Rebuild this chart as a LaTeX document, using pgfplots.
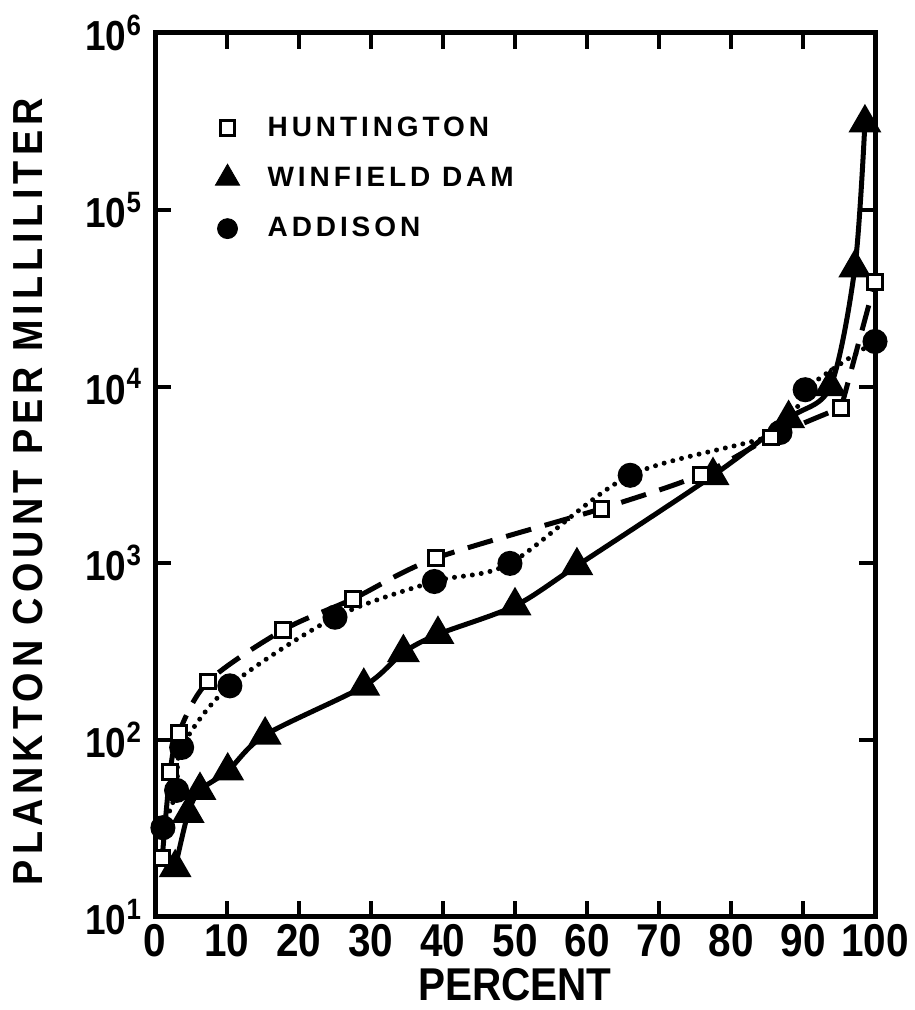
\documentclass[border=0pt]{standalone}
\usepackage{fontspec}
\setmainfont{Liberation Sans}
\newfontfamily\lab[FakeStretch=0.88]{Liberation Sans}
\newfontfamily\ylab[FakeStretch=0.9, LetterSpace=12]{Liberation Sans}
\newfontfamily\leg[LetterSpace=14]{Liberation Sans}
\usepackage{pgfplots}
\pgfplotsset{compat=1.18}

\begin{document}
\begin{tikzpicture}
\path[use as bounding box] (-77.5pt,-46.5pt) rectangle (379.5pt,458.5pt);
\begin{axis}[
  scale only axis, width=360pt, height=442pt,
  ymode=log, xmin=0, xmax=100, ymin=10, ymax=1000000,
  axis line style={line width=2.5pt},
  tick style={line width=2pt, black},
  major tick length=8pt,
  tick align=inside,
  /pgf/number format/assume math mode=true,
  xtick={0,10,...,100},
  ytick={10,100,1000,10000,100000,1000000},
  yticklabels={10\textsuperscript{1},10\textsuperscript{2},10\textsuperscript{3},10\textsuperscript{4},10\textsuperscript{5},10\textsuperscript{6}},
  yminorticks=false,
  xticklabel style={font=\lab\bfseries\fontsize{23}{23}\selectfont},
  yticklabel style={font=\lab\bfseries\fontsize{21}{21}\selectfont, xshift=-3pt},
  xlabel={PERCENT},
  ylabel={PLANKTON COUNT PER MILLILITER},
  xlabel style={font=\lab\bfseries\fontsize{23}{23}\selectfont, at={(axis description cs:0.5,-0.077)}, anchor=center},
  ylabel style={font=\ylab\bfseries\fontsize{21}{21}\selectfont, at={(axis description cs:-0.176,0.481)}, anchor=center},
  legend style={draw=none, fill=none, at={(rel axis cs:0.075,0.915)}, anchor=north west,
    font=\leg\bfseries\fontsize{14}{17}\selectfont, row sep=10pt,
    /tikz/every odd column/.append style={column sep=12pt}},
  legend cell align=left,
]
\addlegendimage{only marks, mark=square*, mark size=3.7pt, mark options={fill=white, draw=black, line width=1.5pt}}
\addlegendentry{HUNTINGTON}
\addlegendimage{only marks, mark=triangle*, mark size=7pt, mark options={fill=black, draw=black}}
\addlegendentry{WINFIELD DAM}
\addlegendimage{only marks, mark=*, mark size=5pt, mark options={fill=black, draw=black}}
\addlegendentry{ADDISON}

% Huntington (dashed, open squares)
\addplot[forget plot, black, line width=2.5pt, dash pattern=on 13pt off 7pt, smooth, tension=0.5]
  coordinates {(1,21.5) (2.1,66) (3.3,110) (7.4,215) (17.8,420) (27.5,630) (39,1070) (62,2040) (75.8,3170) (85.5,5150) (95.3,7600)};
\addplot[forget plot, black, line width=2.5pt, dash pattern=on 13pt off 7pt]
  coordinates {(95.3,7600) (100,39000)};

% Addison (dotted, filled circles)
\addplot[forget plot, black, line width=2.5pt, line cap=round, dash pattern=on 0pt off 4.5pt, smooth, tension=0.5,
  mark=*, mark size=5pt, mark options={solid, fill=black, draw=black}]
  coordinates {(1.1,32) (3,52) (3.7,91) (10.4,203) (25,496) (38.8,790) (49.3,1000) (66,3150) (86.8,5500) (90.3,9600) (100,18000)};

% Winfield Dam (solid, filled triangles)
\addplot[forget plot, black, line width=2.5pt, smooth, tension=0.5,
  mark=triangle*, mark size=7pt, mark options={solid, fill=black, draw=black}]
  coordinates {(2.8,19) (4.6,38.6) (6.25,52) (10.1,67) (15.3,107) (29,202) (34.5,313) (39.3,397) (50,576) (58.6,970) (77.5,3140) (88,6600) (93.8,10000) (97.2,47000) (98.6,310000)};

% Huntington markers on top
\addplot[forget plot, only marks, mark=square*, mark size=3.7pt, mark options={solid, fill=white, draw=black, line width=1.5pt}]
  coordinates {(1,21.5) (2.1,66) (3.3,110) (7.4,215) (17.8,420) (27.5,630) (39,1070) (62,2040) (75.8,3170) (85.5,5150) (95.3,7600) (100,39000)};
\end{axis}
\end{tikzpicture}
\end{document}
